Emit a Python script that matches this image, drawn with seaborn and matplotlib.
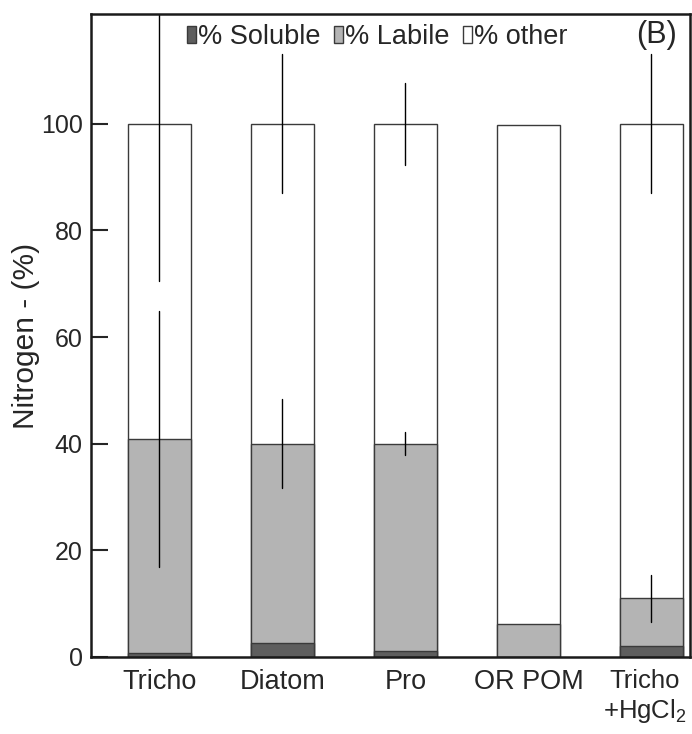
import matplotlib
matplotlib.use("Agg")
import matplotlib.pyplot as plt
import matplotlib.transforms as mtransforms
import seaborn as sns
import numpy as np
import pandas as pd
from matplotlib.patches import Patch

categories = ["Tricho", "Diatom", "Pro", "OR POM", "Tricho\n+HgCl$_2$"]
soluble = [0.8, 2.7, 1.2, 0.0, 2.0]
labile = [40.0, 37.3, 38.8, 6.2, 9.0]
total = [100.0, 100.0, 100.0, 99.7, 100.0]
labile_err = [24.0, 8.3, 2.1, 0.0, 4.4]
other_err = [29.5, 13.0, 7.7, 0.0, 13.0]

sns.set_theme(style="white")
plt.rcParams['font.family'] = ['Liberation Sans', 'DejaVu Sans']
plt.rcParams['mathtext.default'] = 'regular'

df = pd.DataFrame({
    "cat": categories,
    "soluble": soluble,
    "lab_top": np.array(soluble) + np.array(labile),
    "total": total,
})

fig = plt.figure(figsize=(6.92, 7.34), dpi=100)
ax = fig.add_axes([0.1315, 0.105, 0.997 - 0.1315, 0.981 - 0.105])

edge = "#3a3a3a"
sns.barplot(data=df, x="cat", y="total", color="white", edgecolor=edge,
            linewidth=1.0, width=0.51, ax=ax, saturation=1)
sns.barplot(data=df, x="cat", y="lab_top", color="#b4b4b4", edgecolor=edge,
            linewidth=1.0, width=0.51, ax=ax, saturation=1)
sns.barplot(data=df, x="cat", y="soluble", color="#5e5e5e", edgecolor=edge,
            linewidth=1.0, width=0.51, ax=ax, saturation=1)

x = np.arange(len(categories))
for xi, top, e in zip(x, df["lab_top"], labile_err):
    if e > 0:
        ax.plot([xi, xi], [top - e, top + e], color="black", lw=1.0)
for xi, top, e in zip(x, total, other_err):
    if e > 0:
        ax.plot([xi, xi], [top - e, top + e], color="black", lw=1.0)

ax.set_xlim(-0.557, 4.313)
ax.set_ylim(0, 120.6)
ax.set_yticks([0, 20, 40, 60, 80, 100])
ax.tick_params(axis="y", direction="in", length=12, width=1.5, labelsize=18, pad=6, left=True)
ax.tick_params(axis="x", length=0, labelsize=19.5, pad=9)
xlabels = ax.get_xticklabels()
for lbl in xlabels:
    lbl.set_linespacing(1.15)
    lbl.set_verticalalignment("top")
xlabels[-1].set_fontsize(18.5)
xlabels[-1].set_transform(xlabels[-1].get_transform() +
                          mtransforms.ScaledTranslation(-7 / 100, 0, fig.dpi_scale_trans))
ax.set_xlabel("")
ax.set_ylabel("Nitrogen - (%)", fontsize=21.5, labelpad=0.5)
for s in ax.spines.values():
    s.set_visible(True)
    s.set_color("#1a1a1a")
    s.set_linewidth(1.8)

handles = [Patch(facecolor="#5e5e5e", edgecolor=edge, label="% Soluble"),
           Patch(facecolor="#b4b4b4", edgecolor=edge, label="% Labile"),
           Patch(facecolor="white", edgecolor=edge, label="% other")]
ax.legend(handles=handles, loc="upper center", bbox_to_anchor=(0.478, 1.014), ncol=3,
          frameon=False, fontsize=19.5, handlelength=0.32, handleheight=0.62,
          handletextpad=0.08, columnspacing=0.5, borderaxespad=0.3)
ax.text(0.945, 0.967, "(B)", transform=ax.transAxes, fontsize=22,
        ha="center", va="center")

fig.savefig("out.png", dpi=100)
